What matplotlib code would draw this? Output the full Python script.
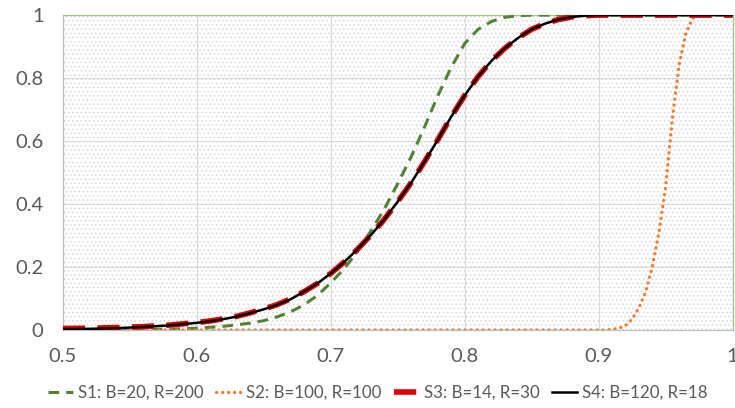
import matplotlib

matplotlib.use("Agg")

import matplotlib.pyplot as plt
from matplotlib.patches import Rectangle

plt.rcParams["font.family"] = ["Lato", "DejaVu Sans"]
plt.rcParams["hatch.linewidth"] = 0.5

# values
S1_X = [0.50, 0.55, 0.58, 0.60, 0.62, 0.64, 0.65, 0.66, 0.67, 0.68, 0.69, 0.70,
        0.71, 0.72, 0.73, 0.74, 0.75, 0.76, 0.77, 0.78, 0.79, 0.80, 0.81, 0.82,
        0.83, 0.84, 0.85, 1.00]
S1_Y = [0.000, 0.001, 0.003, 0.006, 0.012, 0.022, 0.030, 0.042, 0.058, 0.080, 0.110, 0.150,
        0.195, 0.250, 0.315, 0.385, 0.465, 0.550, 0.645, 0.745, 0.835, 0.910, 0.955, 0.980,
        0.993, 0.998, 1.000, 1.000]

S2_X = [0.50, 0.90, 0.905, 0.91, 0.915, 0.92, 0.925, 0.93, 0.935, 0.94, 0.945, 0.95,
        0.955, 0.96, 0.965, 0.97, 0.975, 1.00]
S2_Y = [0.000, 0.000, 0.000, 0.002, 0.006, 0.014, 0.035, 0.070, 0.120, 0.200, 0.310, 0.455,
        0.670, 0.840, 0.940, 0.990, 1.000, 1.000]

S34_X = [0.50, 0.52, 0.54, 0.56, 0.58, 0.60, 0.61, 0.62, 0.63, 0.64, 0.65, 0.66, 0.67,
         0.68, 0.69, 0.70, 0.71, 0.72, 0.73, 0.74, 0.75, 0.76, 0.77, 0.78, 0.79, 0.80,
         0.81, 0.82, 0.83, 0.84, 0.85, 0.86, 0.87, 0.88, 0.89, 0.90, 0.95, 1.00]
S3_Y = [0.005, 0.006, 0.008, 0.011, 0.016, 0.024, 0.029, 0.036, 0.044, 0.055, 0.067, 0.081, 0.099,
        0.122, 0.148, 0.180, 0.216, 0.257, 0.302, 0.352, 0.408, 0.468, 0.535, 0.605, 0.678, 0.745,
        0.805, 0.855, 0.895, 0.928, 0.955, 0.973, 0.986, 0.994, 0.998, 1.000, 1.000, 1.000]
S4_Y = [0.003, 0.004, 0.006, 0.010, 0.015, 0.023, 0.028, 0.035, 0.043, 0.054, 0.066, 0.080, 0.098,
        0.122, 0.148, 0.180, 0.216, 0.257, 0.302, 0.352, 0.408, 0.468, 0.535, 0.605, 0.678, 0.745,
        0.805, 0.855, 0.895, 0.928, 0.955, 0.973, 0.986, 0.994, 0.998, 1.000, 1.000, 1.000]

LABELS = ["S1: B=20, R=200", "S2: B=100, R=100", "S3: B=14, R=30", "S4: B=120, R=18"]
X_TICKS = [0.5, 0.6, 0.7, 0.8, 0.9, 1.0]
X_TICK_LABELS = ["0.5", "0.6", "0.7", "0.8", "0.9", "1"]
Y_TICKS = [0.0, 0.2, 0.4, 0.6, 0.8, 1.0]
Y_TICK_LABELS = ["0", "0.2", "0.4", "0.6", "0.8", "1"]

TEXT_COLOR = "#595959"
GRID_COLOR = "#D9D9D9"

fig = plt.figure(figsize=(7.35, 4.08), dpi=100)
ax = fig.add_axes([0.0857, 0.191, 0.911, 0.772])

ax.add_patch(Rectangle((0, 0), 1, 1, transform=ax.transAxes, facecolor="white",
                       edgecolor="#CDD2D8", linewidth=0, hatch="....", zorder=0.1))

ax.plot(S1_X, S1_Y, color="#548235", linewidth=2.2, linestyle=(0, (3.5, 2.3)),
        label=LABELS[0], zorder=3)
ax.plot(S2_X, S2_Y, color="#ED7D31", linewidth=2.4, linestyle=(0, (0.05, 1.75)),
        dash_capstyle="round", label=LABELS[1], zorder=3)
ax.plot(S34_X, S3_Y, color="#E00000", linewidth=4.0, linestyle=(0, (4.0, 2.2)),
        label=LABELS[2], zorder=4)
ax.plot(S34_X, S4_Y, color="black", linewidth=1.8, label=LABELS[3], zorder=5)

ax.set_xlim(0.5, 1.0)
ax.set_ylim(0.0, 1.0)
ax.set_xticks(X_TICKS, X_TICK_LABELS)
ax.set_yticks(Y_TICKS, Y_TICK_LABELS)
ax.tick_params(axis="both", length=0, labelsize=14.5, colors=TEXT_COLOR)
ax.tick_params(axis="x", pad=13)
ax.tick_params(axis="y", pad=14)
ax.grid(True, color=GRID_COLOR, linewidth=0.8)
ax.set_axisbelow(True)

for side in ("left", "bottom"):
    ax.spines[side].set_color("#BFBFBF")
    ax.spines[side].set_linewidth(0.9)
for side in ("top", "right"):
    ax.spines[side].set_color("#A9C08F")
    ax.spines[side].set_linewidth(0.9)

leg = fig.legend(loc="center", bbox_to_anchor=(0.514, 0.037), ncol=4, frameon=False,
                 fontsize=12.2, handlelength=1.5, handletextpad=0.3, columnspacing=0.7)
for text in leg.get_texts():
    text.set_color(TEXT_COLOR)

fig.savefig("out.png", dpi=100)
